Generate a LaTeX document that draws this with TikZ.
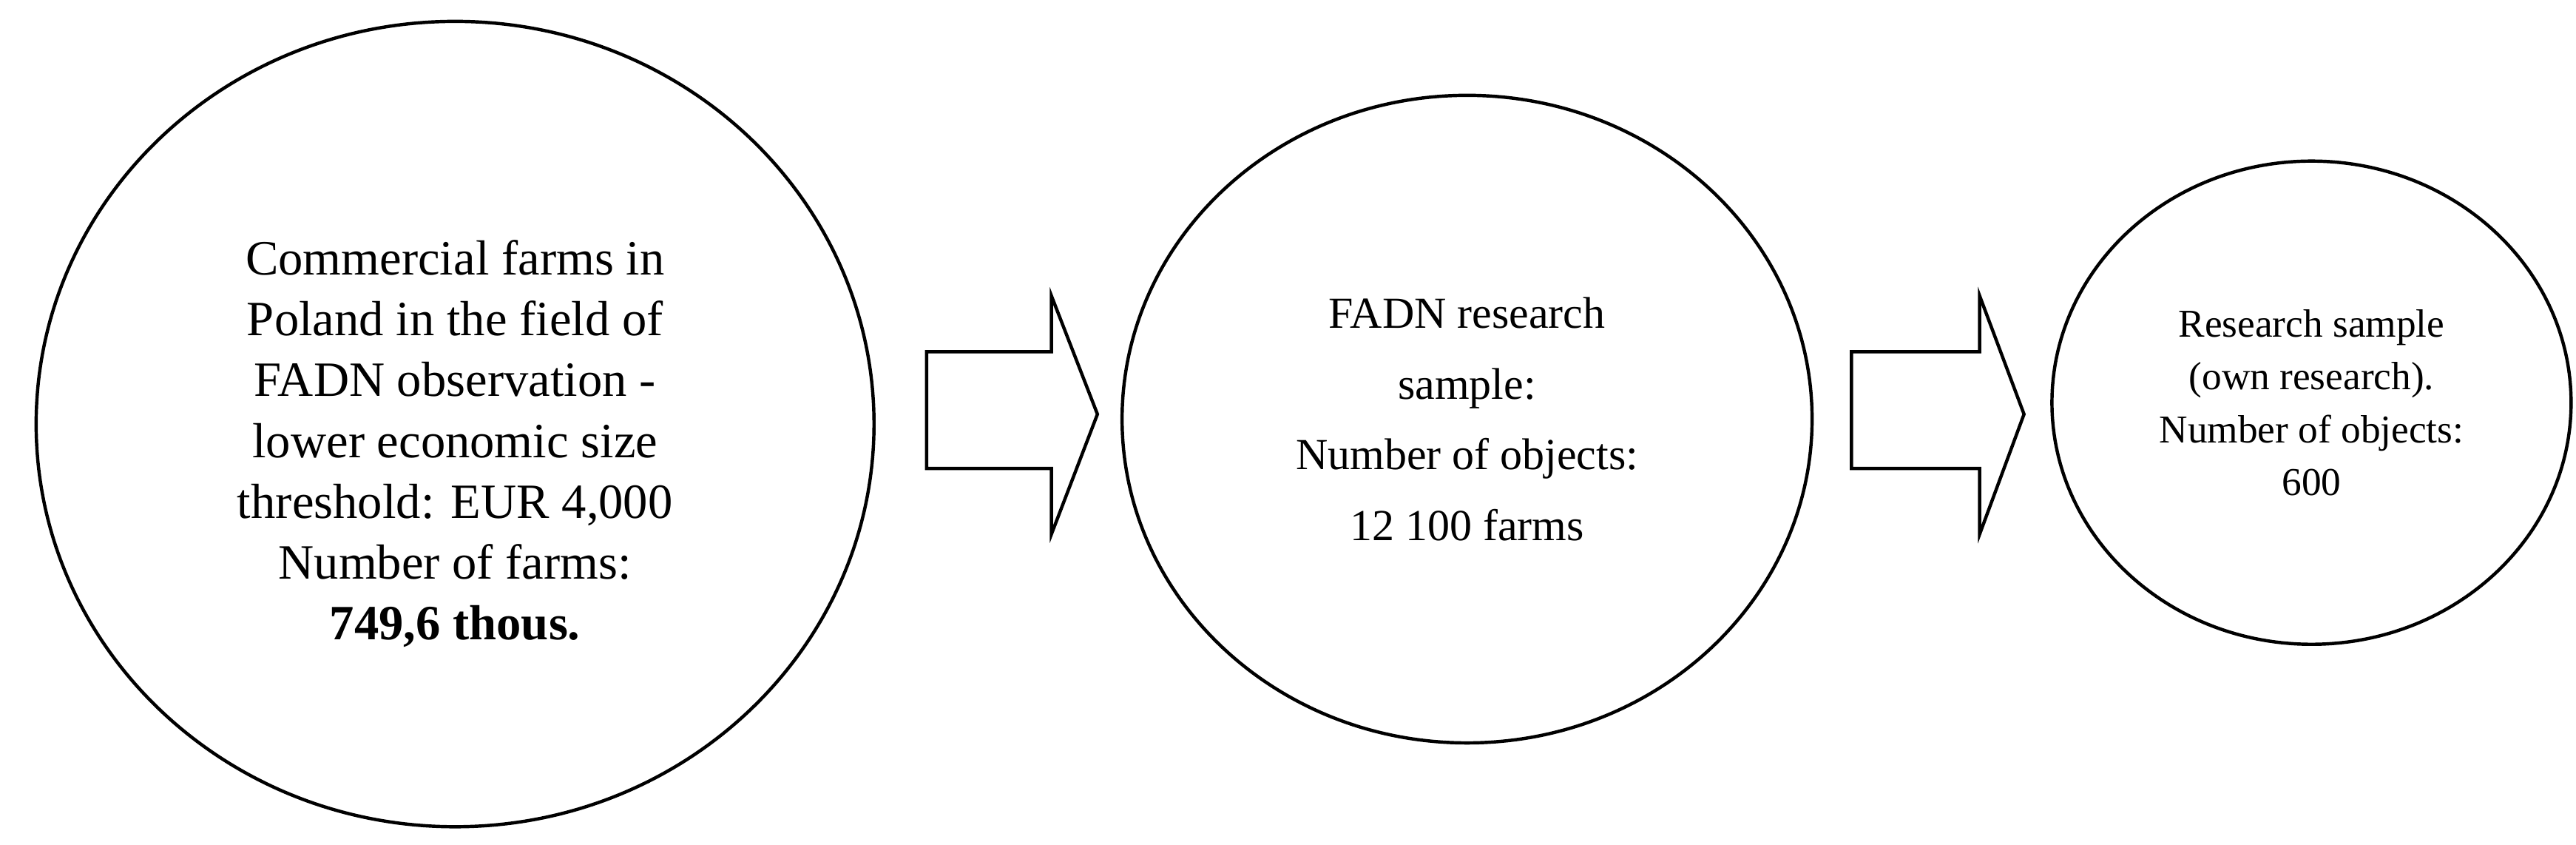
\documentclass[tikz,border=0pt]{standalone}
\usepackage{fontspec}
\setmainfont{Liberation Serif}
\begin{document}
\begin{tikzpicture}[x=1pt,y=-1pt,
  ell/.style={draw,line width=2pt},
  txt/.style={align=center,font=\fontsize{30}{37}\selectfont},
  arr/.style={draw,line width=2pt,line join=miter}]
\useasboundingbox (0,0) rectangle (1568,514);
\draw[ell] (277,258) ellipse [x radius=255,y radius=245];
\node[txt] (t1) at (277,270) {Commercial farms in\\Poland in the field of\\FADN observation -\\lower economic size\\threshold: EUR 4,000\\Number of farms:\\\textbf{749,6 thous.}};
\draw[ell] (893,255) ellipse [x radius=210,y radius=197];
\node[txt,font=\fontsize{27}{43}\selectfont] (t2) at (893,255) {FADN research\\sample:\\Number of objects:\\12 100 farms};
\draw[ell] (1407,245) ellipse [x radius=158,y radius=147];
\node[txt,font=\fontsize{24}{32}\selectfont] (t3) at (1407,245) {Research sample\\(own research).\\Number of objects:\\600};
\draw[arr] (564,214) -- (640,214) -- (640,180) -- (668,252) -- (640,325) -- (640,285) -- (564,285) -- cycle;
\draw[arr] (1127,214) -- (1205,214) -- (1205,180) -- (1232,252) -- (1205,325) -- (1205,285) -- (1127,285) -- cycle;
\end{tikzpicture}
\end{document}
